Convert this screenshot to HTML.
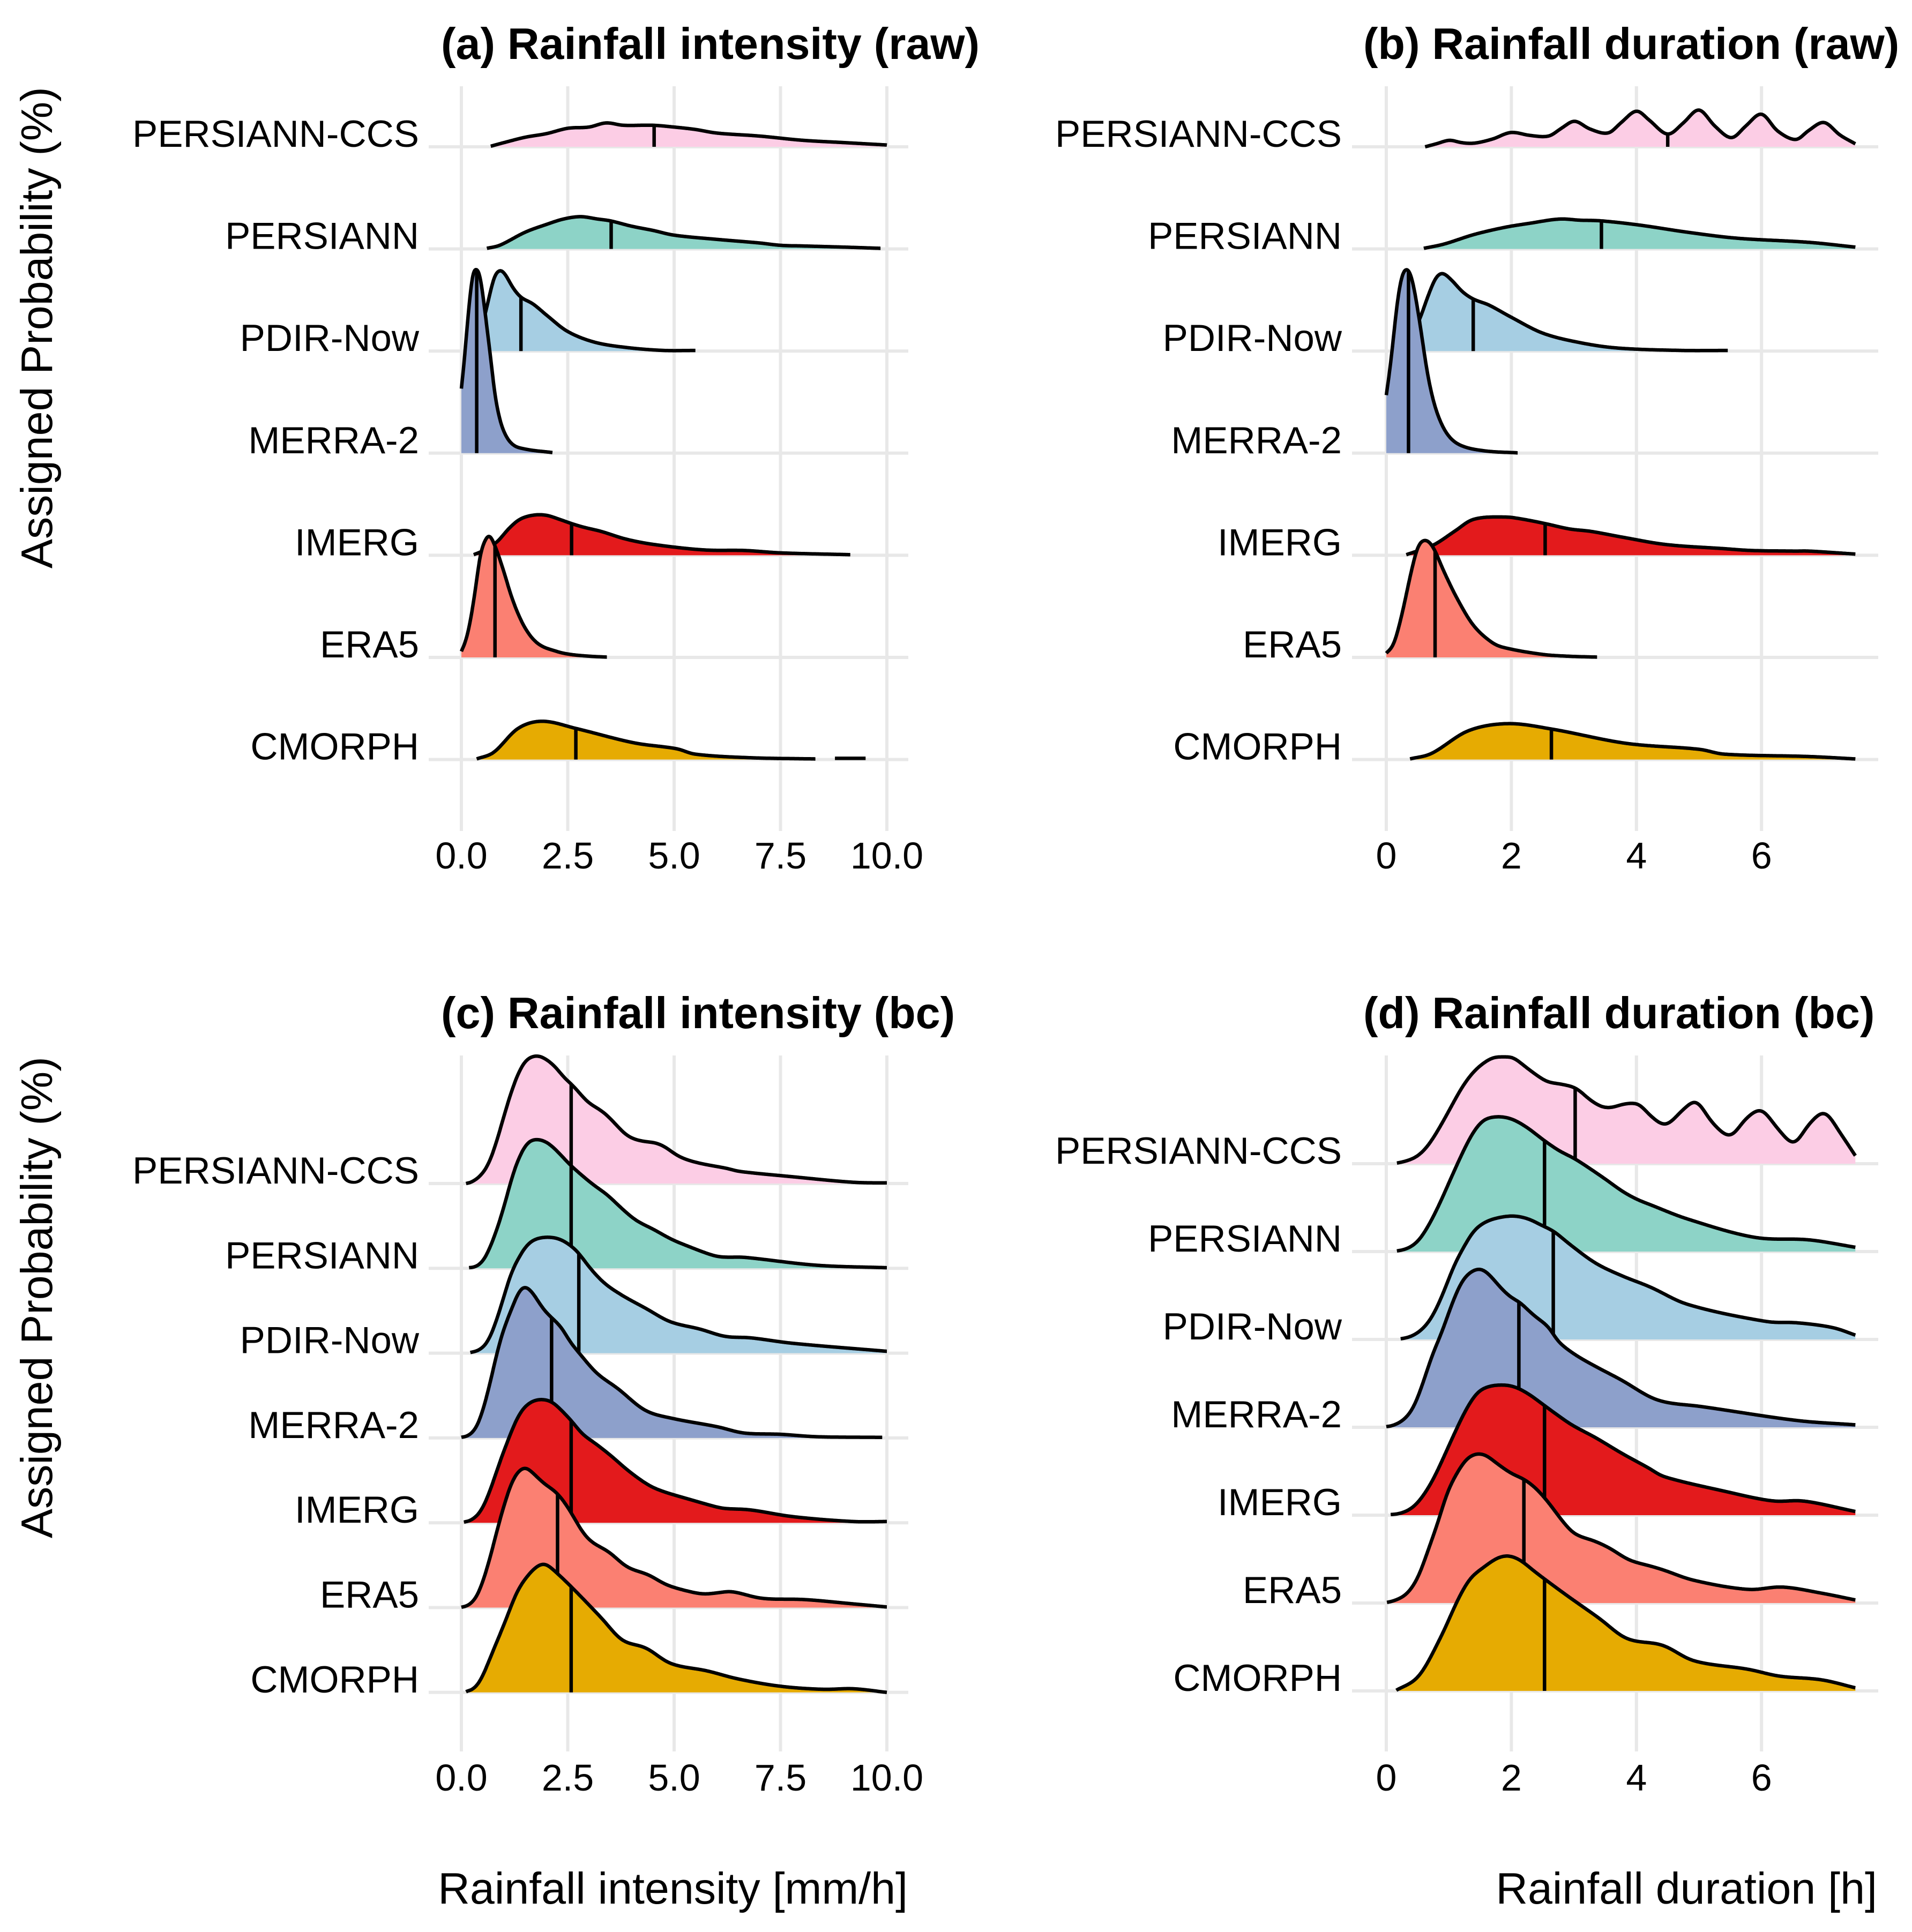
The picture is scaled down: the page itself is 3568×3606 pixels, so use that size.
<!DOCTYPE html>
<html lang="en">
<head>
<meta charset="utf-8">
<title>Rainfall intensity and duration ridgeline charts</title>
<style>
html,body{margin:0;padding:0;background:#fff;}
svg{display:block;}
text{font-family:"Liberation Sans",Arial,sans-serif;fill:#000;}
</style>
</head>
<body>
<svg id="chart" xmlns="http://www.w3.org/2000/svg" width="3568" height="3606" viewBox="0 0 3568 3606">
<rect x="0" y="0" width="3568" height="3606" fill="#ffffff"/>
<g id="panel-a"></g>
<g id="panel-b"></g>
<g id="panel-c"></g>
<g id="panel-d"></g>
<text x="823" y="110" font-size="82.6" font-weight="700">(a) Rainfall intensity (raw)</text>
<text x="2544" y="110" font-size="82.6" font-weight="700">(b) Rainfall duration (raw)</text>
<text x="823" y="1919" font-size="82.6" font-weight="700">(c) Rainfall intensity (bc)</text>
<text x="2544" y="1919" font-size="82.6" font-weight="700">(d) Rainfall duration (bc)</text>
<text transform="translate(97,1061) rotate(-90)" font-size="82.5">Assigned Probability (%)</text>
<text transform="translate(97,2871) rotate(-90)" font-size="82.5">Assigned Probability (%)</text>
<text x="1694" y="3553" text-anchor="end" font-size="82.6">Rainfall intensity [mm/h]</text>
<text x="3503" y="3553" text-anchor="end" font-size="82.6">Rainfall duration [h]</text>
</svg>
<script>
const categories = ['PERSIANN-CCS','PERSIANN','PDIR-Now','MERRA-2','IMERG','ERA5','CMORPH'];
const seriesKeys = ['ccs','persiann','pdir','merra','imerg','era5','cmorph'];
const colors = ['#FCCDE5','#8DD3C7','#A6CEE3','#8DA0CB','#E31A1C','#FB8072','#E6AB02'];

const intensityTicks = [0,2.5,5,7.5,10];
const intensityTickLabels = ['0.0','2.5','5.0','7.5','10.0'];
const durationTicks = [0,2,4,6];
const durationTickLabels = ['0','2','4','6'];

/* panel (a) intensity raw */
const a_ccs_x = [.69,1,1.5,2,2.5,3,3.4,3.8,4.5,5,5.5,6,7,8,9,10];
const a_ccs_d = [1,7,16,22,31,33,40,36,36,33,29,23,18,11,7,3];
const a_persiann_x = [.6,.9,1.5,2,2.4,2.8,3.2,3.5,4,4.5,5,6,7,7.5,8,9,9.85];
const a_persiann_d = [1,6,28,41,50,54,50,47,38,31,23,16,10,6,5,3,1];
const a_pdir_x = [.2,.4,.58,.71,.8,.93,1.05,1.21,1.4,1.68,2.02,2.49,3.12,3.87,4.75,5.5];
const a_pdir_d = [0,25,68,108,128,135,126,106,90,79,59,33,15,6,1,1];
const a_merra_x = [0,.08,.18,.27,.35,.44,.55,.68,.8,.96,1.18,1.49,2.14];
const a_merra_d = [108,164,248,302,308,297,239,164,92,43,16,7,1];
const a_imerg_x = [.29,.49,.83,1.12,1.37,1.68,1.99,2.31,2.59,2.87,3.28,3.87,4.53,5.69,6.66,7.51,9.14];
const a_imerg_d = [1,7,22,45,60,67,67,60,53,47,40,27,18,9,8,4,1];
const a_era5_x = [0,.14,.3,.43,.52,.65,.77,.96,1.21,1.49,1.8,2.24,2.56,3,3.42];
const a_era5_d = [10,37,99,166,190,204,190,152,95,50,23,10,5,2,.5];
const a_cmorph_x = [.36,.76,1.33,1.9,2.69,4.05,5.06,5.49,6.78,8.32,8.5,8.78,9.5];
const a_cmorph_d = [1,12,52,64,52,28,18,9,3,1,null,2,2];
const a_medians = [4.53,3.52,1.4,.36,2.59,.79,2.69];

/* panel (b) duration raw */
const b_ccs_x = [.62,.8,1.01,1.2,1.4,1.7,1.99,2.3,2.6,2.8,3.01,3.25,3.55,3.75,4,4.2,4.5,4.75,5,5.25,5.52,5.75,6,6.25,6.55,6.75,7,7.25,7.5];
const b_ccs_d = [0,5,11,7,6,13,24,19,18,31,43,30,23,40,60,45,21,40,62,35,15,35,55,27,12,27,41,20,5];
const b_persiann_x = [.6,.92,1.4,1.89,2.3,2.77,3.1,3.43,4.04,4.81,5.6,6.76,7.5];
const b_persiann_d = [1,8,24,36,43,50,48,47,40,28,18,11,3];
const b_pdir_x = [.2,.4,.54,.66,.79,.9,1.04,1.22,1.39,1.64,1.99,2.5,3.1,3.7,4.73,5.46];
const b_pdir_d = [0,25,55,90,122,130,119,99,87,77,57,30,14,5,1,1];
const b_merra_x = [0,.08,.17,.25,.34,.42,.53,.66,.79,.96,1.17,1.56,2.1];
const b_merra_d = [97,159,248,297,308,288,222,132,74,34,14,4,.5];
const b_imerg_x = [.32,.49,.77,1.09,1.39,1.9,2.2,2.54,2.93,3.27,3.79,4.47,5.41,5.84,6.53,6.76,7.5];
const b_imerg_d = [1,7,18,40,60,64,60,53,44,40,30,18,11,8,7,7,2];
const b_era5_x = [0,.12,.25,.4,.51,.63,.75,.92,1.13,1.39,1.69,1.9,2.5,2.9,3.37];
const b_era5_d = [7,23,72,144,186,196,184,144,99,54,25,16,5,2,.5];
const b_cmorph_x = [.38,.72,1.31,1.94,2.64,3.84,5.01,5.4,6.76,7.5];
const b_cmorph_d = [1,10,48,60,51,27,17,9,5,1];
const b_medians = [4.5,3.44,1.39,.355,2.54,.78,2.64];

/* panel (c) intensity bias corrected */
const c_ccs_x = [.11,.28,.47,.64,.83,.99,1.16,1.33,1.5,1.67,1.83,2.02,2.21,2.42,2.59,2.76,2.97,3.35,3.6,3.85,4.06,4.31,4.56,4.77,5.11,5.53,6.28,6.49,7.78,9.21,10];
const c_ccs_d = [0,3.5,14,31,68,107,146,178,199,206,207,200,189,171,161,148,132,115,98,80,72,68,66,60,44,34,24,20,11,2,1];
const c_persiann_x = [.18,.37,.53,.7,.87,1.04,1.2,1.37,1.54,1.71,1.88,2.04,2.25,2.55,2.76,3.09,3.43,3.77,4.1,4.52,4.94,5.36,5.78,6.03,6.28,6.63,8.35,10];
const c_persiann_d = [1,3.5,13,38,70,109,151,182,203,209,208,203,190,168,155,136,119,97,78,63,47,35,24,19,18,18,5,1];
const c_pdir_x = [.21,.45,.62,.76,.99,1.16,1.33,1.5,1.71,2.04,2.34,2.63,2.76,3.01,3.35,3.77,4.35,4.9,5.61,6.2,6.78,7.78,10];
const c_pdir_d = [1,6,18,40,89,129,152,172,184,188,184,171,162,139,114,94,72,51,39,27,25,16,3];
const c_merra_x = [0,.2,.37,.53,.7,.83,.995,1.2,1.37,1.52,1.71,1.92,2.15,2.38,2.51,2.8,3.18,3.68,4.31,4.94,6.03,6.63,7.49,8.35,9.89];
const c_merra_d = [1,5,18,50,96,137,177,212,241,246,232,209,193,177,160,135,105,80,45,32,18,8,6,2,1];
const c_imerg_x = [.06,.28,.49,.7,.91,1.12,1.29,1.46,1.67,1.88,2.13,2.34,2.59,2.84,3.14,3.51,3.93,4.4,4.73,5.36,6.03,6.2,6.78,7.78,9.21,10];
const c_imerg_d = [1,6,22,57,100,138,167,186,197,200,196,183,165,144,129,109,84,61,51,38,25,23,21,10,2,2];
const c_era5_x = [0,.2,.37,.53,.7,.87,1.04,1.16,1.29,1.5,1.71,1.96,2.21,2.42,2.63,2.84,3.05,3.47,3.89,4.4,4.82,5.36,5.7,6.03,6.35,7.06,8.07,9.21,10];
const c_era5_d = [.5,5,18,47,87,134,174,200,217,228,216,200,188,171,148,123,107,90,66,53,37,26,22,24,26,15,13,6,1];
const c_cmorph_x = [.11,.4,.76,1.06,1.29,1.5,1.75,1.96,2.17,2.57,3.3,3.77,4.34,4.91,5.77,6.49,7.49,8.5,9.21,10];
const c_cmorph_d = [1,13,70,120,161,184,203,209,198,172,120,85,72,47,35,22,10,5,6,0];
const c_medians = [2.58,2.58,2.76,2.12,2.58,2.26,2.58];

/* panel (d) duration bias corrected */
const d_ccs_x = [.17,.34,.51,.68,.86,1.03,1.2,1.37,1.54,1.71,1.88,2.03,2.2,2.37,2.57,2.79,3.04,3.25,3.45,3.6,3.77,3.91,4.05,4.22,4.47,4.75,4.96,5.2,5.5,5.75,6,6.25,6.52,6.75,7.01,7.25,7.5];
const d_ccs_d = [1,5,13,31,60,91,122,146,162,172,173,172,159,146,133,129,122,104,92,91,96,98,96,78,63,88,101,68,45,73,87,58,33,63,83,51,13];
const d_persiann_x = [.17,.34,.51,.68,.85,1.03,1.2,1.37,1.54,1.71,1.88,2.05,2.28,2.51,2.77,3.02,3.48,3.77,4,4.22,4.81,5.89,6.76,7.5];
const d_persiann_d = [1,5,17,43,77,118,156,190,212,218,218,213,199,181,163,150,119,98,85,76,53,23,19,7];
const d_pdir_x = [.23,.4,.58,.74,.91,1.08,1.23,1.4,1.6,1.83,2.05,2.28,2.48,2.68,2.91,3.34,3.77,4.22,4.81,6.08,6.57,7.15,7.5];
const d_pdir_d = [1,5,17,38,75,119,148,176,191,198,200,195,185,175,156,124,103,85,57,29,27,19,7];
const d_merra_x = [0,.14,.31,.45,.6,.74,.84,.91,1.05,1.2,1.34,1.51,1.65,1.83,2,2.13,2.34,2.62,2.72,3,3.34,3.77,4.22,4.5,5.01,6.57,7.5];
const d_merra_d = [1,4,15,35,76,119,142,160,200,235,251,257,247,226,210,203,183,160,142,119,99,76,49,40,34,11,4];
const d_imerg_x = [.07,.23,.43,.6,.77,.94,1.11,1.28,1.45,1.62,1.85,2.05,2.28,2.51,2.74,2.97,3.34,3.77,4.22,4.42,5.4,6.18,6.67,7.5];
const d_imerg_d = [1,3,13,33,62,99,137,172,198,208,211,208,196,179,162,146,126,100,75,63,39,23,23,6];
const d_era5_x = [.01,.16,.34,.51,.68,.83,.97,1.11,1.28,1.45,1.6,1.77,2,2.21,2.4,2.6,2.8,3,3.34,3.57,3.88,4.22,4.42,4.91,5.79,6.33,6.96,7.5];
const d_era5_d = [1,5,16,42,89,132,178,207,233,242,239,226,210,200,185,162,135,113,100,89,70,60,54,37,22,26,16,5];
const d_cmorph_x = [.16,.53,.92,1.01,1.17,1.34,1.54,1.77,1.95,2.14,2.34,2.52,2.91,3.4,3.84,4.42,4.91,5.79,6.28,6.96,7.5];
const d_cmorph_d = [1,25,97,118,153,182,199,215,219,212,196,182,153,118,85,74,49,35,24,18,5];
const d_medians = [3.02,2.53,2.67,2.12,2.53,2.2,2.53];

const panelA = {id:'panel-a',key:'a',xs:[a_ccs_x,a_persiann_x,a_pdir_x,a_merra_x,a_imerg_x,a_era5_x,a_cmorph_x],ds:[a_ccs_d,a_persiann_d,a_pdir_d,a_merra_d,a_imerg_d,a_era5_d,a_cmorph_d],medians:a_medians,ticks:intensityTicks,tickLabels:intensityTickLabels};
const panelB = {id:'panel-b',key:'b',xs:[b_ccs_x,b_persiann_x,b_pdir_x,b_merra_x,b_imerg_x,b_era5_x,b_cmorph_x],ds:[b_ccs_d,b_persiann_d,b_pdir_d,b_merra_d,b_imerg_d,b_era5_d,b_cmorph_d],medians:b_medians,ticks:durationTicks,tickLabels:durationTickLabels};
const panelC = {id:'panel-c',key:'c',xs:[c_ccs_x,c_persiann_x,c_pdir_x,c_merra_x,c_imerg_x,c_era5_x,c_cmorph_x],ds:[c_ccs_d,c_persiann_d,c_pdir_d,c_merra_d,c_imerg_d,c_era5_d,c_cmorph_d],medians:c_medians,ticks:intensityTicks,tickLabels:intensityTickLabels};
const panelD = {id:'panel-d',key:'d',xs:[d_ccs_x,d_persiann_x,d_pdir_x,d_merra_x,d_imerg_x,d_era5_x,d_cmorph_x],ds:[d_ccs_d,d_persiann_d,d_pdir_d,d_merra_d,d_imerg_d,d_era5_d,d_cmorph_d],medians:d_medians,ticks:durationTicks,tickLabels:durationTickLabels};

/* layout: axis functions for each panel */
const layoutA = {x0:861,pxPerX:79.4,row0:274,rowStep:190.6,yScale:1.116,gridLeft:800,gridRight:1695,gridTop:161,gridBottom:1551,labelRight:782,tickBase:1621,sigma:.04};
const layoutB = {x0:2587,pxPerX:116.7,row0:274,rowStep:190.6,yScale:1.116,gridLeft:2523,gridRight:3505,gridTop:161,gridBottom:1551,labelRight:2504,tickBase:1621,sigma:.03};
const layoutC = {x0:861,pxPerX:79.4,row0:2209,rowStep:158.3,yScale:1.152,gridLeft:800,gridRight:1695,gridTop:1970,gridBottom:3269,labelRight:782,tickBase:3342,sigma:.09};
const layoutD = {x0:2587,pxPerX:116.7,row0:2172,rowStep:164,yScale:1.152,gridLeft:2523,gridRight:3505,gridTop:1970,gridBottom:3269,labelRight:2504,tickBase:3342,sigma:.06};

const SVGNS = 'http://www.w3.org/2000/svg';
const GRID = '#e8e8e8';
function mk(tag, parent, attrs){
  const el = document.createElementNS(SVGNS, tag);
  for (const k in attrs) el.setAttribute(k, attrs[k]);
  parent.appendChild(el);
  return el;
}
function splitSegments(xs, ds){
  const segs = [];
  let cur = [];
  for (let i = 0; i < xs.length; i++){
    if (ds[i] === null){ if (cur.length) segs.push(cur); cur = []; }
    else cur.push([xs[i], ds[i]]);
  }
  if (cur.length) segs.push(cur);
  return segs;
}
function tangents(seg){
  const m = [];
  for (let i = 0; i < seg.length; i++){
    if (seg.length < 2) { m.push(0); continue; }
    const a = seg[Math.max(0, i-1)], b = seg[Math.min(seg.length-1, i+1)];
    m.push((b[1]-a[1])/(b[0]-a[0]));
  }
  return m;
}
/* dense curve through the read values with a small kernel smoothing, as a density estimate would look */
function densify(seg, sigma){
  const m = tangents(seg);
  const a = seg[0][0], b = seg[seg.length-1][0];
  const n = Math.max(2, Math.round((b-a)/.01));
  const raw = [];
  let k = 0;
  for (let i = 0; i <= n; i++){
    const x = a + (b-a)*i/n;
    while (k < seg.length-2 && x > seg[k+1][0]) k++;
    const h = seg[k+1][0]-seg[k][0], t = (x-seg[k][0])/h, t2 = t*t, t3 = t2*t;
    raw.push([x, (2*t3-3*t2+1)*seg[k][1] + (t3-2*t2+t)*h*m[k] + (-2*t3+3*t2)*seg[k+1][1] + (t3-t2)*h*m[k+1]]);
  }
  const dx = (b-a)/n;
  const win = Math.ceil(3*sigma/dx);
  const out = [];
  for (let i = 0; i <= n; i++){
    const w = Math.min(win, i, n-i);
    let s = 0, sw = 0;
    for (let j = -w; j <= w; j++){
      const g = Math.exp(-.5*Math.pow(j*dx/sigma, 2));
      s += g*raw[i+j][1];
      sw += g;
    }
    out.push([raw[i][0], s/sw]);
  }
  return out;
}
function heightAt(curves, x){
  for (const c of curves){
    for (let i = 0; i < c.length-1; i++){
      if (x >= c[i][0] && x <= c[i+1][0]){
        const t = (x-c[i][0])/(c[i+1][0]-c[i][0]);
        return c[i][1] + t*(c[i+1][1]-c[i][1]);
      }
    }
  }
  return 0;
}
function drawPanel(panel, layout){
  const g = document.getElementById(panel.id);
  const sx = function(v){ return layout.x0 + v*layout.pxPerX; };
  const rowY = function(i){ return layout.row0 + i*layout.rowStep; };
  const gridG = mk('g', g, {});
  
  
  panel.ticks.forEach(function(t, i){
    const vl = mk('line', gridG, {x1:sx(t),x2:sx(t),y1:layout.gridTop,y2:layout.gridBottom,stroke:GRID,'stroke-width':6});
    
    
    const lbl = mk('text', g, {x:sx(t),y:layout.tickBase,'text-anchor':'middle','font-size':70});
    
    
    lbl.textContent = panel.tickLabels[i];
  });
  categories.forEach(function(c, i){
    const hl = mk('line', gridG, {x1:layout.gridLeft,x2:layout.gridRight,y1:rowY(i),y2:rowY(i),stroke:GRID,'stroke-width':6});
    
    
    const lbl = mk('text', g, {x:layout.labelRight,y:rowY(i),'text-anchor':'end','font-size':70.8});
    
    
    lbl.textContent = c;
  });
  categories.forEach(function(c, i){
    const base = rowY(i);
    const sy = function(v){ return base - v*layout.yScale; };
    const xs = panel.xs[i], ds = panel.ds[i];
    const ridge = mk('g', g, {});
    
    
    const curves = splitSegments(xs, ds).map(function(seg){ return densify(seg, layout.sigma); });
    curves.forEach(function(curve){
      const pts = curve.map(function(p){ return sx(p[0]).toFixed(1) + ' ' + sy(p[1]).toFixed(1); });
      const top = 'M' + pts.join('L');
      const x1 = sx(curve[0][0]).toFixed(1), x2 = sx(curve[curve.length-1][0]).toFixed(1);
      const fillD = 'M' + x1 + ' ' + base + 'L' + pts.join('L') + 'L' + x2 + ' ' + base + 'Z';
      const fill = mk('path', ridge, {d:fillD,fill:colors[i],stroke:'none'});
      
      
      const line = mk('path', ridge, {d:top,fill:'none',stroke:'#000','stroke-width':6.5,'stroke-linejoin':'round'});
      
      
    });
    const med = panel.medians[i];
    const ml = mk('line', ridge, {x1:sx(med),x2:sx(med),y1:sy(heightAt(curves, med)),y2:base,stroke:'#000','stroke-width':6.5});
    
    
  });
}
drawPanel(panelA, layoutA);
drawPanel(panelB, layoutB);
drawPanel(panelC, layoutC);
drawPanel(panelD, layoutD);
</script>
</body>
</html>
